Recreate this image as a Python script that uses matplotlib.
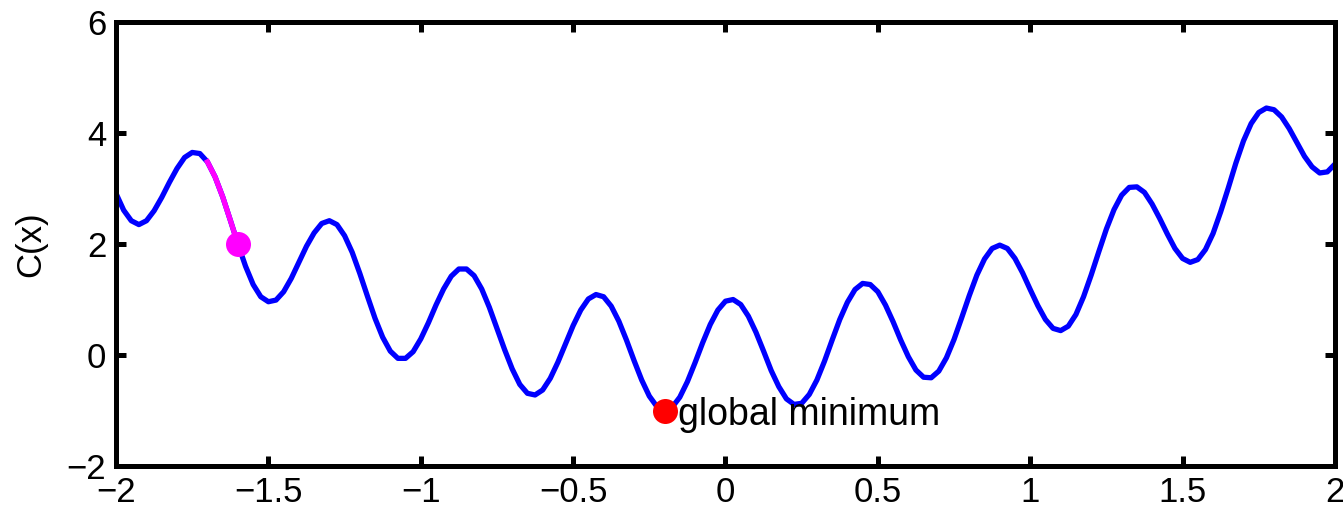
import numpy as np
import matplotlib
matplotlib.use("Agg")
import matplotlib.pyplot as plt

plt.rcParams['font.family'] = ['Liberation Sans', 'DejaVu Sans']

# curve C(x), values every 0.025 from -2 to 2
x = np.round(np.arange(-2.0, 2.0001, 0.025), 3)
c = [2.91, 2.61, 2.42, 2.35, 2.42, 2.60, 2.84, 3.11, 3.36, 3.56,
     3.65, 3.63, 3.48, 3.21, 2.85, 2.43, 2.00, 1.60, 1.27, 1.05,
     0.96, 0.99, 1.14, 1.38, 1.67, 1.96, 2.20, 2.37, 2.42, 2.35,
     2.15, 1.85, 1.47, 1.06, 0.66, 0.32, 0.07, -0.06, -0.06, 0.06,
     0.29, 0.58, 0.90, 1.19, 1.42, 1.55, 1.55, 1.43, 1.19, 0.86,
     0.48, 0.10, -0.25, -0.53, -0.69, -0.72, -0.63, -0.42, -0.13, 0.20,
     0.53, 0.81, 1.01, 1.09, 1.05, 0.88, 0.61, 0.27, -0.10, -0.45,
     -0.74, -0.93, -1.00, -0.94, -0.76, -0.48, -0.14, 0.22, 0.55, 0.81,
     0.97, 1.00, 0.91, 0.70, 0.41, 0.07, -0.28, -0.57, -0.79, -0.89,
     -0.87, -0.71, -0.45, -0.11, 0.27, 0.64, 0.95, 1.18, 1.29, 1.27,
     1.14, 0.90, 0.60, 0.27, -0.03, -0.27, -0.40, -0.41, -0.29, -0.05,
     0.28, 0.67, 1.07, 1.44, 1.73, 1.92, 1.98, 1.92, 1.74, 1.48,
     1.18, 0.89, 0.64, 0.48, 0.44, 0.52, 0.73, 1.05, 1.44, 1.86,
     2.27, 2.62, 2.88, 3.02, 3.03, 2.93, 2.72, 2.46, 2.18, 1.92,
     1.74, 1.67, 1.72, 1.90, 2.19, 2.58, 3.01, 3.46, 3.86, 4.17,
     4.37, 4.45, 4.42, 4.29, 4.08, 3.83, 3.58, 3.39, 3.28, 3.30,
     3.44]
c = np.array(c)

# short descent step shown in magenta
step_x = x[(x >= -1.7) & (x <= -1.6)]
step_c = c[(x >= -1.7) & (x <= -1.6)]
current = (-1.6, 2.0)
global_min = (-0.2, -1.0)

fig = plt.figure(figsize=(13.43, 5.12), dpi=100)
ax = fig.add_axes([0.0864, 0.0898, 0.9076, 0.8672])

ax.plot(x, c, color='#0000ff', lw=3.8, solid_joinstyle='round')
ax.plot(step_x, step_c, color='#ff00ff', lw=3.8, solid_joinstyle='round')
ax.plot(*current, 'o', color='#ff00ff', ms=18, mec='none')
ax.plot(*global_min, 'o', color='#ff0000', ms=18, mec='none')
ax.text(-0.155, -1.08, 'global minimum', fontsize=27, va='center', ha='left')

ax.set_xlim(-2, 2)
ax.set_ylim(-2, 6)
ax.set_xticks([-2, -1.5, -1, -0.5, 0, 0.5, 1, 1.5, 2])
ax.set_xticklabels(['\u22122', '\u22121.5', '\u22121', '\u22120.5', '0', '0.5', '1', '1.5', '2'])
ax.set_yticks([-2, 0, 2, 4, 6])
ax.set_yticklabels(['\u22122', '0', '2', '4', '6'])
ax.set_ylabel('C(x)', fontsize=25, labelpad=14)

for s in ax.spines.values():
    s.set_linewidth(3.6)
ax.tick_params(direction='in', length=7, width=3.6, labelsize=25,
               top=True, right=True, pad=7)

fig.savefig('out.png', dpi=100)
